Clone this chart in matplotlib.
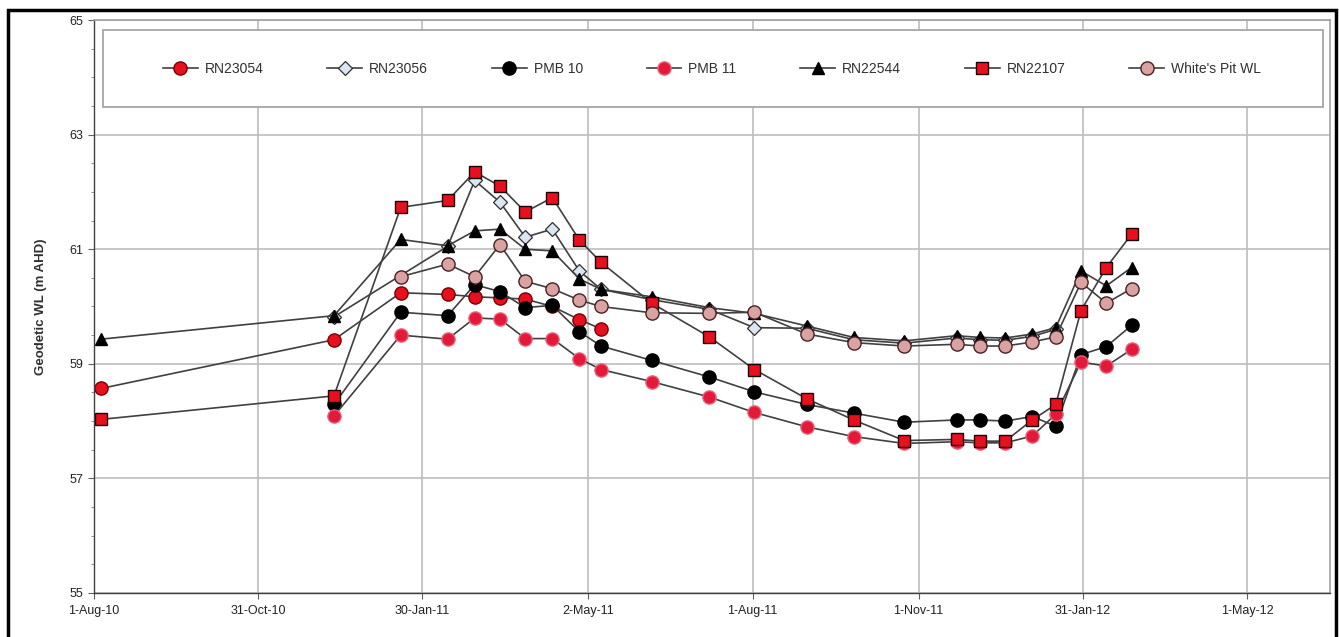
import numpy as np
import matplotlib
matplotlib.use('Agg')
import matplotlib.pyplot as plt
from matplotlib.patches import Rectangle
from matplotlib.ticker import MultipleLocator

plt.rcParams['font.family'] = ['Liberation Sans', 'DejaVu Sans']

# survey dates shared by all bores (None = not measured)
survey_dates = ['2010-08-05', '2010-12-12', '2011-01-18', '2011-02-13', '2011-02-28',
                '2011-03-14', '2011-03-28', '2011-04-12', '2011-04-27', '2011-05-09',
                '2011-06-06', '2011-07-08', '2011-08-02', '2011-08-31', '2011-09-26',
                '2011-10-24', '2011-11-22', '2011-12-05', '2011-12-19', '2012-01-03',
                '2012-01-16', '2012-01-30', '2012-02-13', '2012-02-27']

rn23054 = [58.57, 59.42, 60.24, 60.21, 60.17, 60.15, 60.13, 60.00, 59.77, 59.61,
           None, None, None, None, None, None, None, None, None, None,
           None, None, None, None]
rn23056 = [None, 59.82, None, 61.05, 62.20, 61.82, 61.21, 61.35, 60.62, 60.30,
           60.12, 59.95, 59.63, 59.62, 59.42, 59.36, 59.45, 59.42, 59.41, 59.48,
           59.60, None, None, None]
pmb10 = [None, 58.29, 59.90, 59.84, 60.38, 60.26, 59.98, 60.02, 59.56, 59.31,
         59.06, 58.77, 58.51, 58.29, 58.14, 57.98, 58.02, 58.02, 58.00, 58.08,
         57.91, 59.16, 59.30, 59.67]
pmb11 = [None, 58.09, 59.50, 59.43, 59.80, 59.78, 59.44, 59.44, 59.09, 58.90,
         58.69, 58.42, 58.15, 57.90, 57.73, 57.61, 57.64, 57.62, 57.62, 57.74,
         58.12, 59.03, 58.96, 59.25]
rn22544 = [59.43, 59.84, 61.17, 61.06, 61.32, 61.35, 61.00, 60.97, 60.48, 60.30,
           60.17, 59.98, 59.88, 59.66, 59.46, 59.40, 59.49, 59.46, 59.45, 59.52,
           59.63, 60.62, 60.36, 60.68]
rn22107 = [58.03, 58.44, 61.73, 61.85, 62.35, 62.10, 61.65, 61.90, 61.16, 60.77,
           60.06, 59.47, 58.90, 58.39, 58.02, 57.66, 57.68, 57.65, 57.65, 58.02,
           58.29, 59.93, 60.68, 61.26]
whites_pit = [None, None, 60.52, 60.74, 60.52, 61.08, 60.44, 60.31, 60.11, 60.00,
              59.89, 59.88, 59.90, 59.52, 59.37, 59.31, 59.34, 59.31, 59.31, 59.38,
              59.47, 60.42, 60.06, 60.31]

series_names = ['RN23054', 'RN23056', 'PMB 10', 'PMB 11', 'RN22544', 'RN22107',
                "White's Pit WL"]

tick_dates = ['2010-08-01', '2010-10-31', '2011-01-30', '2011-05-02', '2011-08-01',
              '2011-11-01', '2012-01-31', '2012-05-01']
tick_labels = ['1-Aug-10', '31-Oct-10', '30-Jan-11', '2-May-11', '1-Aug-11',
               '1-Nov-11', '31-Jan-12', '1-May-12']

styles = [
    dict(marker='o', ms=9.5, mfc='#e8101e', mec='#7a0000', mew=1.0),
    dict(marker='D', ms=7, mfc='#dce6f2', mec='#303030', mew=0.9),
    dict(marker='o', ms=9.5, mfc='black', mec='black', mew=1.0),
    dict(marker='o', ms=9.5, mfc='#e3193a', mec='#e8607a', mew=1.0),
    dict(marker='^', ms=9, mfc='black', mec='black', mew=1.0),
    dict(marker='s', ms=9, mfc='#e8101e', mec='#1a0000', mew=1.0),
    dict(marker='o', ms=9.5, mfc='#d9a3a3', mec='#4a2020', mew=1.0),
]

fig = plt.figure(figsize=(13.39, 6.37), dpi=100)
ax = fig.add_axes([0.0702, 0.0691, 0.9231, 0.8995])

dates = np.array(survey_dates, dtype='datetime64[D]')
all_series = [rn23054, rn23056, pmb10, pmb11, rn22544, rn22107, whites_pit]
for name, vals, st in zip(series_names, all_series, styles):
    keep = [i for i, v in enumerate(vals) if v is not None]
    ax.plot(dates[keep], [vals[i] for i in keep], color='#404040', lw=1.2,
            label=name, **st)

ax.set_xlim(np.datetime64('2010-08-01'), np.datetime64('2012-06-16'))
ax.set_ylim(55, 65)
ax.set_xticks(np.array(tick_dates, dtype='datetime64[D]'))
ax.set_xticklabels(tick_labels, fontsize=9, color='#222222')
ax.yaxis.set_minor_locator(MultipleLocator(0.5))
ax.set_yticks([55, 57, 59, 61, 63, 65])
ax.tick_params(axis='y', labelsize=9, labelcolor='#222222', length=4, color='#606060')
ax.tick_params(axis='y', which='minor', length=2.5, color='#808080')
ax.tick_params(axis='x', length=4, color='#606060', pad=5)

ax.grid(True, which='major', color='#bdbdbd', lw=1.2)
ax.set_axisbelow(True)
for s in ['top', 'right']:
    ax.spines[s].set_color('#a0a0a0')
    ax.spines[s].set_linewidth(1.2)
for s in ['left', 'bottom']:
    ax.spines[s].set_color('#404040')
    ax.spines[s].set_linewidth(1.0)

ax.set_ylabel('Geodetic WL (m AHD)', fontsize=9.5, fontweight='bold',
              color='#303030', labelpad=16)

# legend box drawn separately so the entries can sit spread out in the middle
ax.add_patch(Rectangle((0.0073, 0.848), 0.987, 0.1345, transform=ax.transAxes,
                       facecolor='white', edgecolor='#a6a6a6', lw=1.3, zorder=5))
leg = ax.legend(loc='center', ncol=7, bbox_to_anchor=(0.5, 0.9153),
                fontsize=10, frameon=False, handlelength=2.5,
                handletextpad=0.5, columnspacing=4.6, borderaxespad=0)
leg.set_zorder(6)
for t in leg.get_texts():
    t.set_color('#303030')

# outer border round the picture
fig.patches.append(Rectangle((0.006, -0.02), 0.9918, 1.004, transform=fig.transFigure,
                             fill=False, edgecolor='black', lw=2.5))

fig.savefig('out.png', dpi=100)
